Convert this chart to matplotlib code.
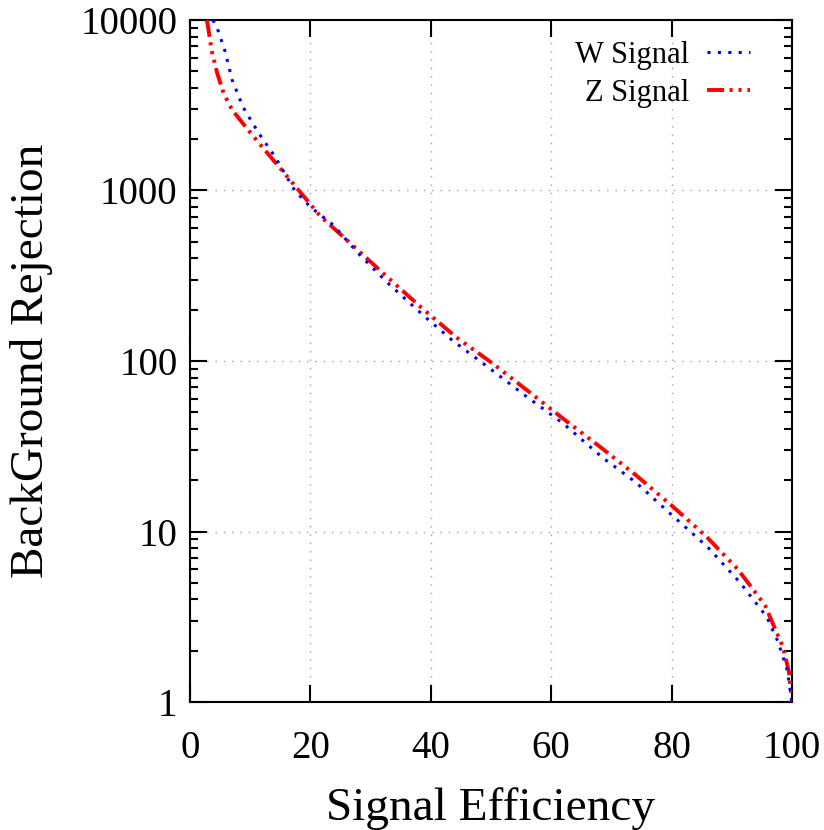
import matplotlib
matplotlib.use("Agg")
import matplotlib.pyplot as plt
from matplotlib.ticker import LogLocator, FixedLocator, NullFormatter

plt.rcParams["font.family"] = ["Liberation Serif", "DejaVu Serif"]

# W signal (blue dotted)
w_eff = [3.8, 4.5, 5.8, 7.0, 8.8, 11.3, 14.1, 17.4, 20, 23.8, 27.9, 32.7, 38.7,
         43.7, 49, 55.6, 62, 68.6, 74, 79.7, 86, 91.4, 95.8, 97.7, 99.2, 100]
w_rej = [10000, 9000, 6600, 4450, 3090, 2200, 1580, 1000, 800, 627, 430, 290, 186,
         131, 95, 63, 43, 27, 19.5, 12.8, 8.1, 5.0, 3.16, 2.25, 1.54, 1.0]

# Z signal (red dash-dot-dot)
z_eff = [2.8, 3.0, 3.6, 4.5, 5.6, 7.0, 9.5, 12, 17.2, 21.6, 27.2, 32.8, 38.4,
         44.2, 50.4, 56.3, 62.3, 68.3, 74, 80.1, 85.7, 91, 95.5, 98.5, 99.5, 100]
z_rej = [10000, 9100, 6600, 4900, 3700, 2970, 2300, 1800, 1090, 710, 470, 310,
         206, 138, 96, 66, 45, 31, 21.5, 14.1, 9.4, 6.0, 3.7, 2.1, 1.5, 1.0]

x_ticks = [0, 20, 40, 60, 80, 100]
y_ticks = [1, 10, 100, 1000, 10000]
y_labels = ["1", "10", "100", "1000", "10000"]

fig = plt.figure(figsize=(8.24, 8.30), dpi=100)
ax = fig.add_axes([190 / 824, 128 / 830, 602 / 824, 682 / 830])

w_line, = ax.plot(w_eff, w_rej, color="blue", lw=2.2, dashes=(1.0, 2.4),
                  zorder=4, label="W Signal")
z_line, = ax.plot(z_eff, z_rej, color="red", lw=2.8,
                  dashes=(4.4, 1.4, 0.8, 1.5, 0.8, 1.5, 0.8, 1.4),
                  zorder=3, label="Z Signal")

ax.set_yscale("log")
ax.set_xlim(0, 100)
ax.set_ylim(1, 10000)
ax.xaxis.set_major_locator(FixedLocator(x_ticks))
ax.yaxis.set_major_locator(FixedLocator(y_ticks))
ax.set_yticklabels(y_labels)
ax.yaxis.set_minor_locator(LogLocator(base=10, subs=range(2, 10)))
ax.yaxis.set_minor_formatter(NullFormatter())

ax.grid(True, which="major", color="#a0a0a0", linestyle=(0, (1, 5)), lw=1.0)
ax.tick_params(which="both", direction="in", top=True, right=True, width=1.5)
ax.tick_params(which="major", length=12, labelsize=28)
ax.tick_params(axis="x", which="major", pad=20)
ax.tick_params(axis="y", which="major", pad=9)
ax.tick_params(which="minor", length=6)
for s in ax.spines.values():
    s.set_linewidth(1.5)

ax.set_xlabel("Signal Efficiency", fontsize=34, labelpad=15)
ax.set_ylabel("BackGround Rejection", fontsize=34, labelpad=20)

ax.legend(handles=[w_line, z_line], loc="upper right", frameon=False, fontsize=22,
          markerfirst=False, handlelength=1.4, handletextpad=0.6,
          labelspacing=0.3, borderpad=0, borderaxespad=0,
          bbox_to_anchor=(750 / 824, 1 - 41 / 830), bbox_transform=fig.transFigure)

fig.savefig("out.png", dpi=100)
